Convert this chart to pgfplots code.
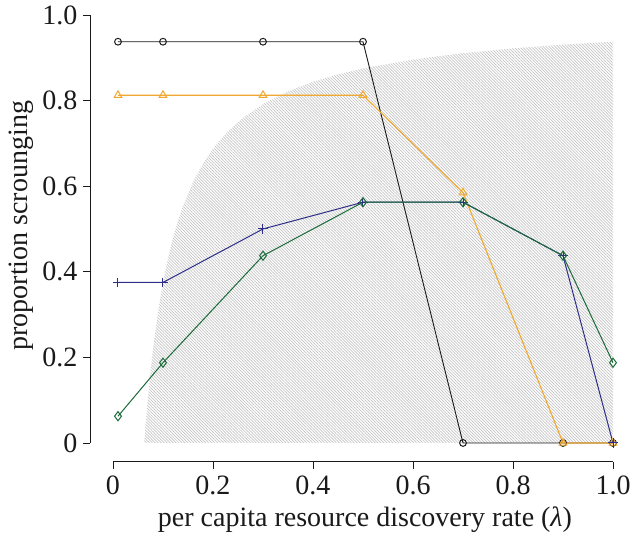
\documentclass[border=0pt]{standalone}
\usepackage{fontspec}
\setmainfont{Liberation Serif}
\usepackage{pgfplots}
\pgfplotsset{compat=1.18}
\usetikzlibrary{patterns.meta}
\definecolor{cblack}{HTML}{1A1A1A}
\definecolor{corange}{HTML}{F0A830}
\definecolor{cblue}{HTML}{2E2E88}
\definecolor{cgreen}{HTML}{1B6B3A}
\definecolor{chatch}{HTML}{C4C4C4}
\begin{document}
\begin{tikzpicture}
\begin{axis}[
  scale only axis, width=538pt, height=461.8pt,
  xmin=-0.046, xmax=1.03, ymin=-0.044, ymax=1.035,
  clip=false,
  axis x line*=bottom, axis y line*=left,
  axis line style={draw=none},
  tick align=outside, major tick length=7pt,
  tick style={cblack, line width=0.8pt},
  xtick={0,0.2,0.4,0.6,0.8,1},
  xticklabels={\mbox{0},\mbox{0.2},\mbox{0.4},\mbox{0.6},\mbox{0.8},\mbox{1.0}},
  ytick={0,0.2,0.4,0.6,0.8,1},
  yticklabels={\mbox{0},\mbox{0.2},\mbox{0.4},\mbox{0.6},\mbox{0.8},\mbox{1.0}},
  tick label style={font=\fontsize{28}{30}\selectfont, text=cblack},
  xticklabel style={yshift=-4pt},
  yticklabel style={xshift=-2pt},
  label style={font=\fontsize{28}{30}\selectfont, text=cblack},
  xlabel={per capita resource discovery rate (\textit{λ})},
  ylabel={proportion scrounging},
  xlabel style={at={(axis description cs:0.511,-0.126)}, anchor=center},
  ylabel style={at={(axis description cs:-0.128,0.511)}, anchor=center},
]
\addplot[draw=none, pattern={Lines[angle=-45, distance=2.1pt, line width=0.7pt]}, pattern color=chatch]
 coordinates {(0.0625,0) (0.065,0.0385) (0.07,0.1071) (0.075,0.1667) (0.08,0.2188) (0.09,0.3056) (0.1,0.375) (0.11,0.4318) (0.12,0.4792) (0.13,0.5192) (0.14,0.5536) (0.16,0.6094) (0.18,0.6528) (0.2,0.6875) (0.23,0.7283) (0.26,0.7596) (0.3,0.7917) (0.35,0.8214) (0.4,0.8438) (0.45,0.8611) (0.5,0.875) (0.6,0.8958) (0.7,0.9107) (0.8,0.9219) (0.9,0.9306) (1.0,0.9375) (1.0,0)};
\addplot[cblack, line width=0.9pt, mark=o, mark size=3.4pt, mark options={line width=1pt}]
 coordinates {(0.01,0.9375) (0.1,0.9375) (0.3,0.9375) (0.5,0.9375) (0.7,0) (0.9,0) (1.0,0)};
\addplot[corange, line width=1.1pt, mark=triangle, mark size=4.4pt, mark options={line width=1pt}]
 coordinates {(0.01,0.8125) (0.1,0.8125) (0.3,0.8125) (0.5,0.8125) (0.7,0.585) (0.9,0) (1.0,0)};
\addplot[cblue, line width=1pt, mark=+, mark size=4.6pt, mark options={line width=1pt}]
 coordinates {(0.01,0.375) (0.1,0.375) (0.3,0.5) (0.5,0.5625) (0.7,0.5625) (0.9,0.4375) (1.0,0)};
\addplot[cgreen, line width=1pt, mark=diamond, mark size=4.6pt, mark options={line width=1pt}]
 coordinates {(0.01,0.0625) (0.1,0.1875) (0.3,0.4375) (0.5,0.5625) (0.7,0.5625) (0.9,0.4375) (1.0,0.1875)};
\draw[cblack, line width=0.8pt] (axis cs:0,-0.044) -- (axis cs:1,-0.044);
\draw[cblack, line width=0.8pt] (axis cs:-0.046,0) -- (axis cs:-0.046,1);
\coordinate (bbll) at (axis cs:-0.226,-0.2266);
\coordinate (bbur) at (axis cs:1.034,1.035);
\end{axis}
\pgfresetboundingbox
\useasboundingbox (bbll) rectangle (bbur);
\end{tikzpicture}
\end{document}
